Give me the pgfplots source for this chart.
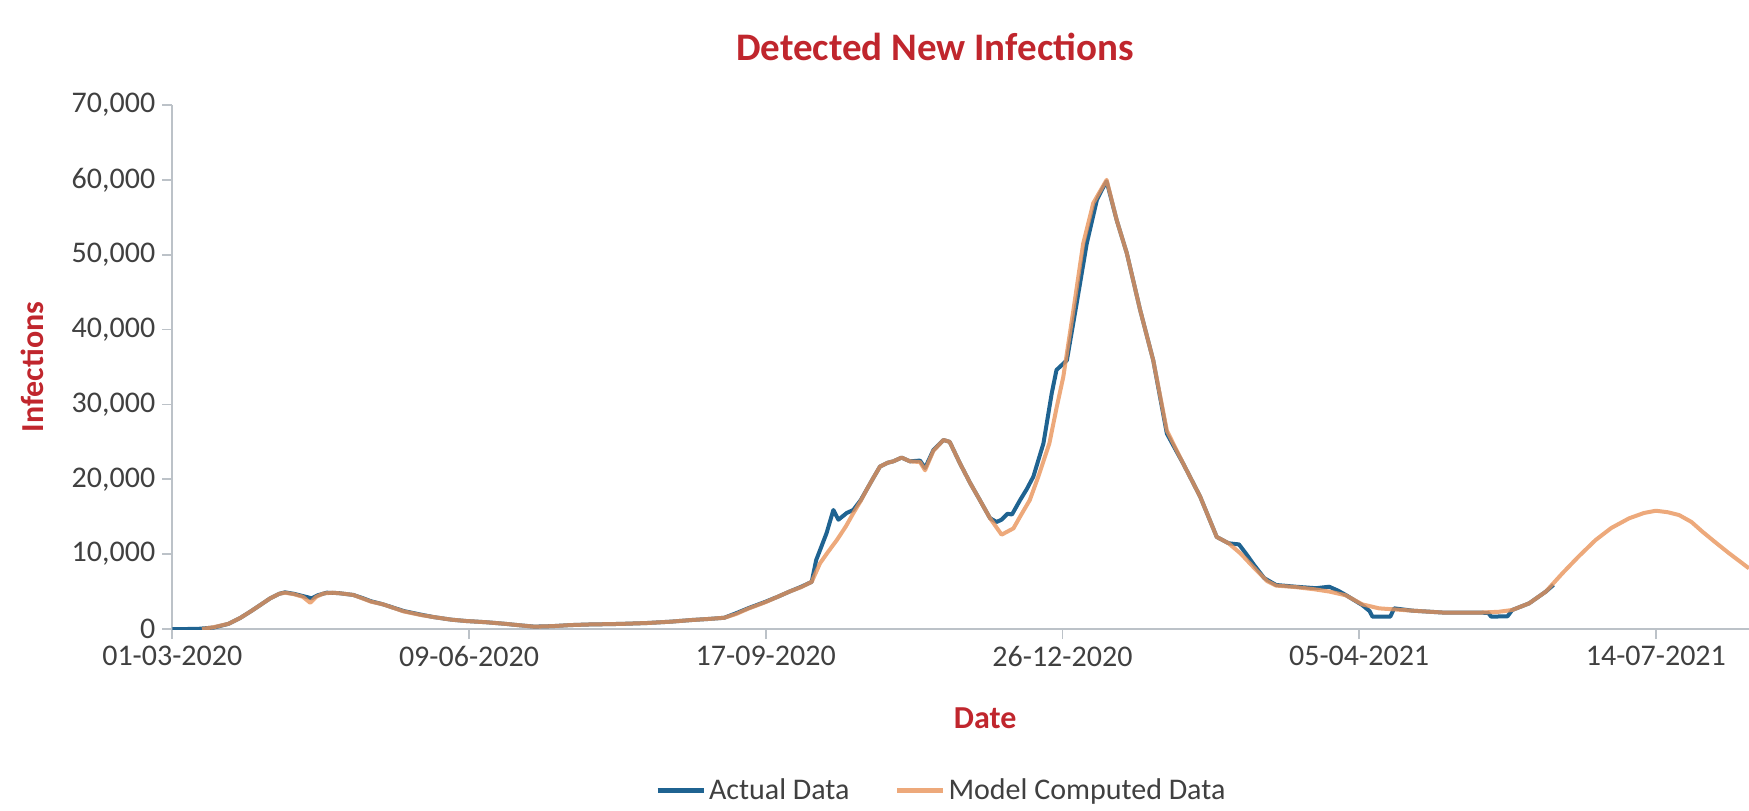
\documentclass[border=0pt]{standalone}
\usepackage{pgfplots}
\pgfplotsset{compat=1.18}
\usepackage{pgfplotstable}
\usepackage{fontspec}
\setmainfont{Carlito}

\definecolor{actual}{HTML}{1F6391}
\definecolor{model}{HTML}{E8935A}
\definecolor{titlered}{HTML}{C0262D}
\definecolor{ticktext}{HTML}{404040}
\definecolor{axisgray}{HTML}{BCC2C8}

% Daily detected new infections, day 0 = 01-03-2020
\pgfplotstableread{
day val
0 0
5 0
9 30
14 200
19 700
23 1500
27 2500
30 3300
33 4100
36 4700
38 4900
41 4700
44 4400
47 4100
49 4500
52 4850
56 4800
61 4550
64 4150
67 3700
71 3300
78 2400
84 1900
88 1600
94 1250
99 1070
106 900
112 700
117 500
122 320
128 380
134 520
140 600
151 680
160 800
168 980
175 1200
181 1350
186 1500
190 2100
194 2760
200 3650
204 4300
208 5000
212 5650
215.5 6300
217 9200
220.5 12800
222.8 15900
224.5 14600
227.3 15500
229.5 15900
232 17200
234 18600
236 20000
238.5 21700
241 22200
243 22400
245.8 22900
248.6 22400
252 22500
253.7 21500
256.5 23900
259.9 25250
262 25000
265.5 22100
268.9 19500
272.2 17200
275.6 14800
277.8 14300
279.5 14600
281.5 15400
283 15300
285.7 17200
288 18700
290.2 20350
293.6 24800
296.4 31500
298 34600
301.5 35900
304.8 43500
308.2 51500
311.6 57300
313.2 58600
314.9 59800
318.3 54600
321.7 50200
326.2 42600
330.6 35900
335.2 26100
340.7 22100
346.4 17700
352 12300
356 11450
359.5 11300
362 10000
364.5 8600
368 6800
372 5880
378.6 5650
385.4 5450
389.9 5650
393 5100
395.5 4540
401 3210
403.5 2400
404.5 1650
410.5 1650
411.8 2760
418 2450
429 2180
440 2200
443.5 2150
444.5 1650
450 1700
451.6 2540
457.3 3430
462.9 4990
465.5 5900
}\actualdata

% Model output, same day axis
\pgfplotstableread{
day val
10 0
14 250
19 700
23 1500
27 2500
30 3300
33 4100
36 4700
38 4850
41 4650
44 4300
46.5 3500
48.5 4300
51 4750
54 4850
57 4750
61 4550
64 4100
67 3650
71 3300
78 2350
84 1850
88 1600
94 1250
99 1070
106 900
112 700
117 500
122 310
128 380
134 520
140 600
151 680
160 800
168 980
175 1200
181 1350
186 1500
190 2000
194 2700
200 3600
204 4300
208 5000
212 5600
215.5 6300
218.3 8780
221 10300
224 11900
227 13700
229.5 15460
232 17100
234 18600
236 20000
238.5 21700
241 22200
243 22400
245.8 22900
248.6 22400
252 22300
253.7 21200
256.5 23800
259.9 25250
262 25000
265.5 22100
268.9 19500
272.2 17200
275.6 14800
279.5 12600
283.5 13450
286 15200
289 17230
292 20500
295.6 24800
298 29500
300.3 33700
303.7 42600
307 51500
310.4 56900
314.9 60000
318.3 54600
321.7 50200
326.2 42600
330.6 35900
335.2 26500
340.7 22100
346.4 17700
352 12300
356 11450
360 10100
365 8000
369 6400
372 5800
378.6 5600
385 5300
390 5000
395.5 4500
401 3300
406.7 2760
418 2450
429 2180
440 2180
447 2300
451.6 2540
457.3 3430
462.9 4990
468.5 7440
474 9700
479.7 11890
485 13500
491 14790
496 15500
500 15800
504 15600
507.8 15230
512 14300
515.7 13000
520 11600
524.7 10110
531.4 8100
}\modeldata

\begin{document}
\begin{tikzpicture}
\useasboundingbox (-86.15pt,-90.5pt) rectangle (788.35pt,314.5pt);
\begin{axis}[
  scale only axis,
  width=788.35pt, height=262pt,
  xmin=0, xmax=531.4,
  ymin=0, ymax=70000,
  axis x line*=bottom,
  axis y line*=left,
  axis line style={color=axisgray, line width=0.8pt},
  xtick={0,100,200,300,400,500},
  xticklabels={01-03-2020,09-06-2020,17-09-2020,26-12-2020,05-04-2021,14-07-2021},
  ytick={0,10000,20000,30000,40000,50000,60000,70000},
  scaled y ticks=false,
  /pgf/number format/.cd, 1000 sep={,}, assume math mode=true,
  /pgfplots/.cd,
  tick align=outside,
  major tick length=5pt,
  tick style={color=axisgray, line width=0.8pt},
  ticklabel style={font=\fontsize{15}{18}\selectfont, text=ticktext},
  title={Detected New Infections},
  title style={at={(axis description cs:0.4837,1.084)}, anchor=base, yshift=-6pt,
    font=\fontsize{19.5}{23}\selectfont\bfseries, text=titlered},
  xlabel={Date},
  xlabel style={at={(axis description cs:0.5155,-0.1893)}, anchor=base,
    font=\fontsize{16}{19}\selectfont\bfseries, text=titlered},
  ylabel={Infections},
  ylabel style={at={(axis description cs:-0.0818,0.5)}, anchor=base,
    font=\fontsize{16}{19}\selectfont\bfseries, text=titlered},
  legend columns=2,
  legend style={at={(axis description cs:0.488,-0.309)}, anchor=center,
    draw=none, fill=none, font=\fontsize{15}{18}\selectfont, text=ticktext,
    nodes={inner sep=1.5pt},
    /tikz/every even column/.append style={column sep=21pt}},
  legend image code/.code={\draw[#1, line width=2.5pt] (0pt,0pt) -- (23pt,0pt);},
]
\addplot[color=actual, line width=2pt, line join=round] table[x=day, y=val] {\actualdata};
\addlegendentry{Actual Data}
\addplot[color=model, line width=2pt, line join=round, opacity=0.8] table[x=day, y=val] {\modeldata};
\addlegendentry{Model Computed Data}
\end{axis}
\end{tikzpicture}
\end{document}
